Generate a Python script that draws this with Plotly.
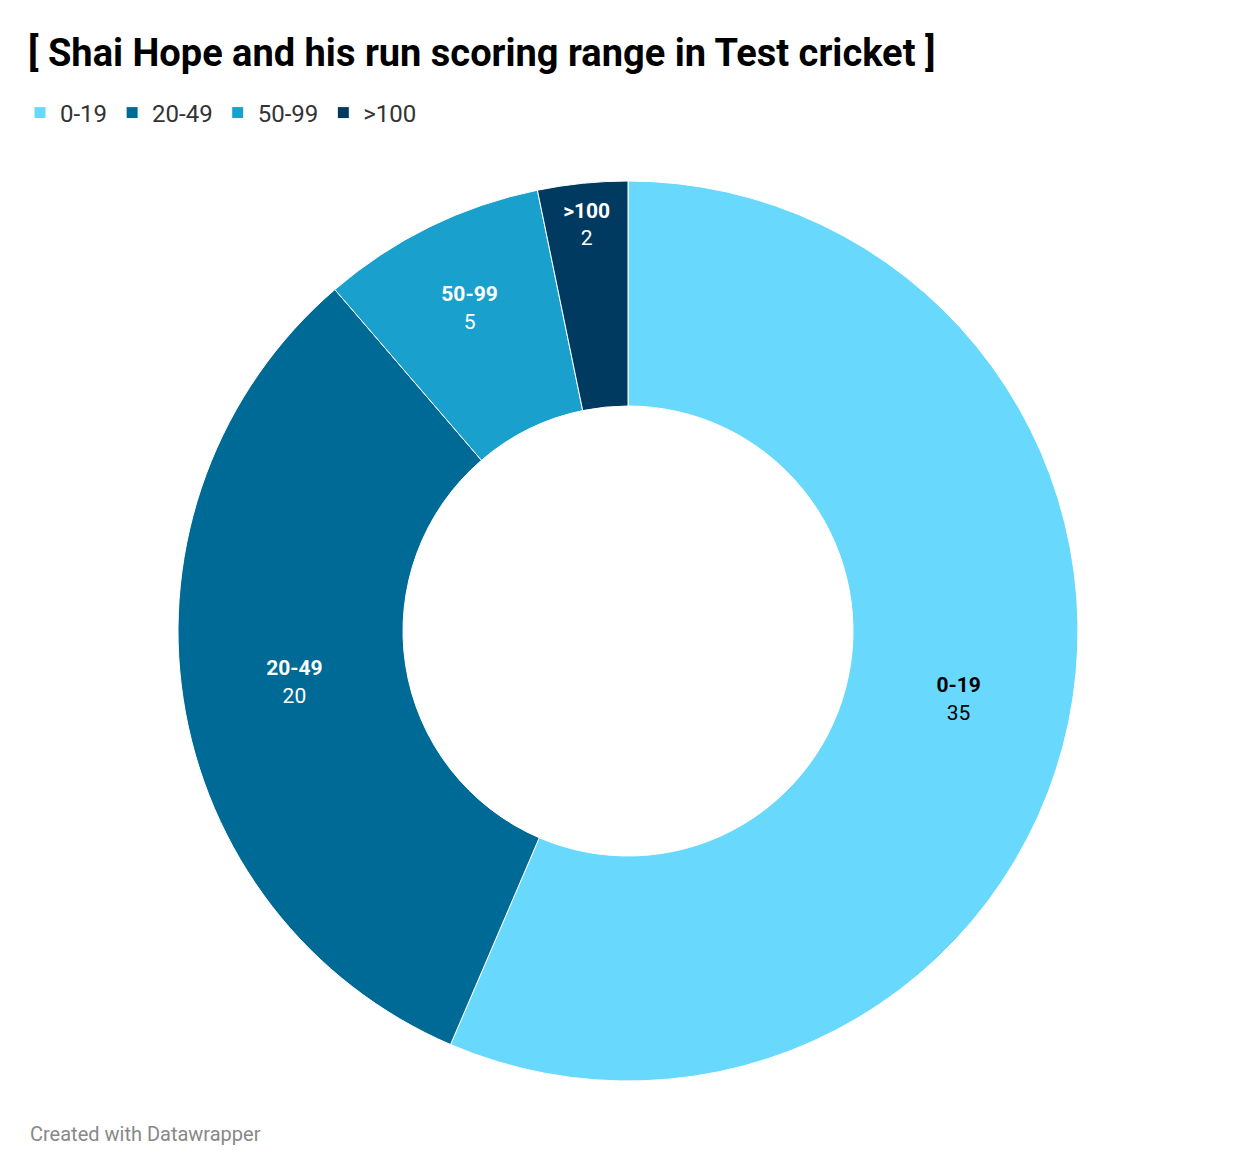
import plotly.graph_objects as go

labels = ['0-19', '20-49', '50-99', '>100']
values = [35, 20, 5, 2]
colors = ['#69d8fd', '#006a96', '#1aa0cd', '#003a60']
text_colors = ['#000000', '#ffffff', '#ffffff', '#ffffff']

W, H = 1240, 1164

fig = go.Figure()
fig.add_trace(go.Pie(
    labels=labels, values=values, hole=0.5, sort=False, direction='clockwise', rotation=0,
    marker=dict(colors=colors, line=dict(color='white', width=1)),
    texttemplate='<b>%{label}</b><br>%{value}', textposition='inside',
    insidetextorientation='horizontal',
    textfont=dict(family='Roboto', size=21, color=text_colors),
    domain=dict(x=[170 / W, 1070 / W], y=[1 - 1073 / H, 1 - 173 / H]),
    hoverinfo='label+value',
))

fig.update_layout(
    width=W, height=H, paper_bgcolor='white', plot_bgcolor='white',
    margin=dict(l=0, r=0, t=0, b=0),
    font=dict(family='Roboto', color='#333333'),
    title=dict(text='<b>[ Shai Hope and his run scoring range in Test cricket ]</b>',
               x=20 / W, xanchor='left', y=1 - 45 / H, yanchor='middle',
               font=dict(family='Roboto', size=38, color='#000000')),
    legend=dict(orientation='h', x=12 / W, xanchor='left', y=1 - 105 / H, yanchor='middle',
                font=dict(family='Roboto', size=24, color='#333333'), itemwidth=30,
                traceorder='normal'),
    annotations=[dict(text='Created with Datawrapper', x=20 / W, y=1 - 1126 / H,
                      xref='paper', yref='paper', xanchor='left', yanchor='middle',
                      showarrow=False, font=dict(family='Roboto', size=20, color='#888888'))],
)

fig.write_html('out.html')
